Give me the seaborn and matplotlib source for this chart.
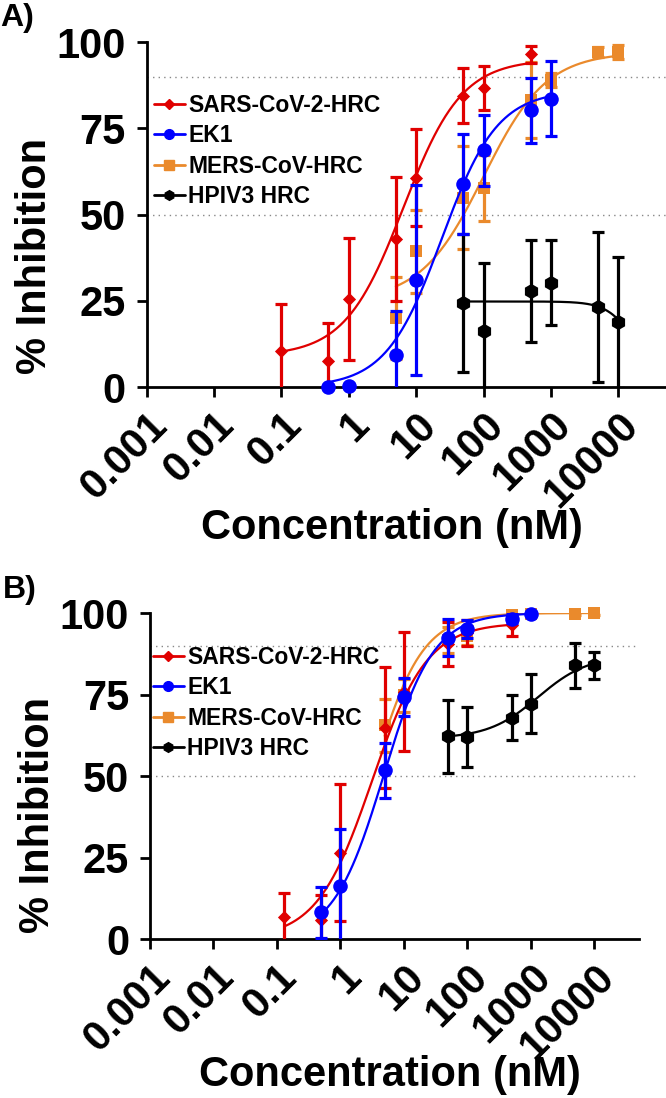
import numpy as np
import pandas as pd
import seaborn as sns
import matplotlib.pyplot as plt
from matplotlib.lines import Line2D

# ---------------- data ----------------
series = ['SARS-CoV-2-HRC', 'EK1', 'MERS-CoV-HRC', 'HPIV3 HRC']
colors = {'SARS-CoV-2-HRC': '#e00000', 'EK1': '#0000ff',
          'MERS-CoV-HRC': '#ea8a2c', 'HPIV3 HRC': '#000000'}
markers = {'SARS-CoV-2-HRC': 'D', 'EK1': 'o', 'MERS-CoV-HRC': 's', 'HPIV3 HRC': 'h'}

# panel A
a_sars_x = [0.1, 0.5, 1, 5, 10, 50, 100, 500]
a_sars_y = [10.5, 7.5, 25.4, 42.8, 60.7, 84.4, 86.7, 96.5]
a_sars_err = [13.5, 11.0, 17.7, 18.0, 14.0, 8.0, 6.3, 2.5]

a_ek1_x = [0.5, 1, 5, 10, 50, 100, 500, 1000]
a_ek1_y = [0.0, 0.4, 9.3, 31.0, 58.8, 68.6, 80.2, 83.6]
a_ek1_err = [0.0, 0.0, 12.7, 27.5, 14.5, 10.2, 9.5, 10.8]

a_mers_x = [5, 10, 50, 100, 500, 1000, 5000, 10000]
a_mers_y = [20.0, 39.3, 54.9, 57.7, 83.3, 89.0, 97.2, 97.2]
a_mers_err = [12.0, 12.0, 15.0, 9.5, 11.0, 2.0, 1.5, 2.0]

a_hpiv_x = [50, 100, 500, 1000, 5000, 10000]
a_hpiv_y = [24.3, 16.3, 27.8, 30.2, 23.3, 18.8]
a_hpiv_err = [20.0, 19.7, 14.7, 12.3, 21.7, 19.0]

# panel B
b_sars_x = [0.13, 0.5, 1, 5, 10, 50, 100, 500]
b_sars_y = [6.7, 5.7, 26.5, 64.8, 75.9, 90.4, 94.0, 96.2]
b_sars_err = [7.4, 7.7, 21.0, 18.5, 18.3, 6.8, 4.0, 3.1]

b_ek1_x = [0.5, 1, 5, 10, 50, 100, 500, 1000]
b_ek1_y = [8.2, 16.3, 51.7, 74.2, 92.4, 95.2, 98.3, 99.8]
b_ek1_err = [7.8, 17.5, 8.3, 5.8, 5.7, 2.8, 1.5, 0.5]

b_mers_x = [5, 10, 50, 100, 500, 1000, 5000, 10000]
b_mers_y = [65.5, 74.7, 91.6, 93.1, 99.3, 99.8, 99.8, 100.0]
b_mers_err = [8.2, 5.0, 4.0, 3.0, 1.0, 0.5, 0.5, 0.5]

b_hpiv_x = [50, 100, 500, 1000, 5000, 10000]
b_hpiv_y = [62.2, 62.0, 67.9, 72.2, 83.9, 83.9]
b_hpiv_err = [11.2, 9.2, 6.9, 9.1, 7.0, 4.2]

# four-parameter fits (low-x plateau, high-x plateau, logEC50, hill)
a_fits = {'SARS-CoV-2-HRC': (9.0, 95.0, 0.81, 1.0),
          'EK1': (0.0, 86.0, 1.38, 1.05),
          'MERS-CoV-HRC': (25.0, 97.0, 2.0, 0.93),
          'HPIV3 HRC': (24.8, 0.0, 4.27, 2.1)}
b_fits = {'SARS-CoV-2-HRC': (0.0, 97.0, 0.5, 1.0),
          'EK1': (0.0, 100.0, 0.68, 1.1),
          'MERS-CoV-HRC': (0.0, 100.0, 0.5, 1.1),
          'HPIV3 HRC': (61.5, 87.0, 3.12, 1.1)}

xticks = [0.001, 0.01, 0.1, 1, 10, 100, 1000, 10000]
xticklabels = ['0.001', '0.01', '0.1', '1', '10', '100', '1000', '10000']
yticks = [0, 25, 50, 75, 100]


def make_points(xs, ys, es):
    rows = []
    for s, x, y, e in zip(series, xs, ys, es):
        for xi, yi, ei in zip(x, y, e):
            rows.append({'series': s, 'conc': xi, 'inhib': yi, 'err': ei})
    return pd.DataFrame(rows)


def make_curves(points, fits):
    rows = []
    for s in series:
        sub = points[points.series == s]
        grid = np.logspace(np.log10(sub.conc.min()), np.log10(sub.conc.max()), 200)
        lo, hi, lec, h = fits[s]
        fit = lo + (hi - lo) / (1 + 10 ** ((lec - np.log10(grid)) * h))
        rows.append(pd.DataFrame({'series': s, 'conc': grid, 'fit': fit}))
    return pd.concat(rows)


pts_a = make_points([a_sars_x, a_ek1_x, a_mers_x, a_hpiv_x],
                    [a_sars_y, a_ek1_y, a_mers_y, a_hpiv_y],
                    [a_sars_err, a_ek1_err, a_mers_err, a_hpiv_err])
pts_b = make_points([b_sars_x, b_ek1_x, b_mers_x, b_hpiv_x],
                    [b_sars_y, b_ek1_y, b_mers_y, b_hpiv_y],
                    [b_sars_err, b_ek1_err, b_mers_err, b_hpiv_err])

sns.set_style('ticks', {'axes.edgecolor': 'black', 'text.color': 'black',
                        'axes.labelcolor': 'black', 'xtick.color': 'black',
                        'ytick.color': 'black'})
plt.rcParams['font.family'] = ['Liberation Sans', 'DejaVu Sans']
plt.rcParams['font.weight'] = 'bold'

fig = plt.figure(figsize=(6.66, 10.98), dpi=100)
ax_a = fig.add_axes([0.2201, 0.6475, 0.7799, 0.3142])
ax_b = fig.add_axes([0.2252, 0.1448, 0.7342, 0.2969])

zorders = {'MERS-CoV-HRC': 3, 'SARS-CoV-2-HRC': 4, 'HPIV3 HRC': 4.5, 'EK1': 5}
msize = {'SARS-CoV-2-HRC': 45, 'EK1': 110, 'MERS-CoV-HRC': 75, 'HPIV3 HRC': 120}


def draw_panel(ax, pts, fits, legend_anchor):
    ax.set_xscale('log')
    for y in (50, 90):
        ax.axhline(y, color='#888888', linestyle=(0, (1, 3)), linewidth=1.0, zorder=1)
    curves = make_curves(pts, fits)
    for s in series:
        c = curves[curves.series == s]
        sns.lineplot(data=c, x='conc', y='fit', color=colors[s], linewidth=1.6,
                     ax=ax, zorder=zorders[s], sort=True)
        p = pts[pts.series == s]
        ax.errorbar(p.conc, p.inhib, yerr=p.err, fmt='none', ecolor=colors[s],
                    elinewidth=2.3, capsize=4, capthick=2.3, zorder=zorders[s])
        sns.scatterplot(data=p, x='conc', y='inhib', color=colors[s], marker=markers[s],
                        s=msize[s], edgecolor=colors[s], linewidth=0, ax=ax,
                        zorder=zorders[s] + 0.1, clip_on=False, legend=False)
    ax.set_xlim(0.001, 5.1e4)
    ax.set_ylim(0, 100)
    ax.set_xticks(xticks)
    ax.set_xticklabels(xticklabels, rotation=45, ha='right', va='top',
                       rotation_mode='anchor')
    ax.xaxis.set_minor_locator(plt.NullLocator())
    ax.set_yticks(yticks)
    ax.tick_params(axis='both', which='major', direction='out', length=7, width=2,
                   labelsize=30, pad=6, colors='black')
    ax.tick_params(axis='y', pad=8)
    for t in ax.get_xticklabels() + ax.get_yticklabels():
        t.set_fontweight('bold')
    sns.despine(ax=ax)
    ax.spines['left'].set_linewidth(2)
    ax.spines['bottom'].set_linewidth(2)
    ax.set_xlabel('Concentration (nM)', fontsize=30, fontweight='bold')
    ax.set_ylabel('% Inhibition', fontsize=30, fontweight='bold')
    handles = [Line2D([], [], color=colors[s], marker=markers[s], linewidth=2,
                      markersize=7 if s != 'SARS-CoV-2-HRC' else 5) for s in series]
    ax.legend(handles, series, loc='upper left', bbox_to_anchor=legend_anchor,
              frameon=False, prop={'size': 16.5, 'weight': 'bold'},
              handlelength=1.35, handletextpad=0.15, labelspacing=0.33,
              borderpad=0, borderaxespad=0)


draw_panel(ax_a, pts_a, a_fits, (0.014, 0.85))
draw_panel(ax_b, pts_b, b_fits, (0.006, 0.90))

ax_a.xaxis.set_label_coords(0.472, -0.35)
ax_a.yaxis.set_label_coords(-0.176, 0.38)
ax_b.xaxis.set_label_coords(0.49, -0.355)
ax_b.yaxis.set_label_coords(-0.188, 0.38)

fig.text(0.0, 0.997, 'A)', fontsize=23, fontweight='bold', va='top', ha='left')
fig.text(0.004, 0.4765, 'B)', fontsize=23, fontweight='bold', va='top', ha='left')

fig.savefig('out.png', dpi=100)
